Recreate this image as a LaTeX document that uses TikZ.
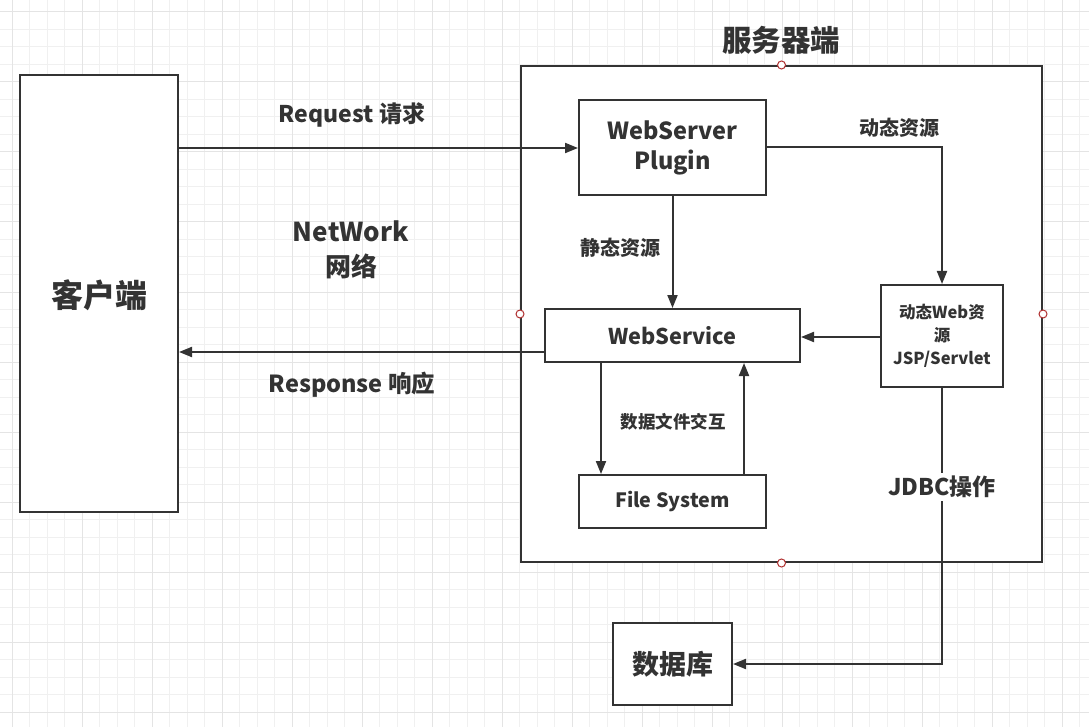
\documentclass[tikz,border=0pt]{standalone}
\usepackage{fontspec}
\setmainfont{Noto Sans CJK SC}
\usetikzlibrary{arrows.meta}
\definecolor{ink}{HTML}{333333}
\definecolor{gridminor}{HTML}{F0F0F0}
\definecolor{gridmajor}{HTML}{E4E4E4}
\definecolor{handle}{HTML}{B03030}
\tikzset{
  box/.style={draw=ink, line width=2pt, fill=white, inner sep=0pt},
  conn/.style={draw=ink, line width=2pt, -{Triangle[length=13pt,width=10pt]}},
  lbl/.style={text=ink, font=\bfseries, inner sep=1pt, align=center},
  handledot/.style={circle, draw=handle, fill=white, line width=1pt, minimum size=8pt, inner sep=0pt},
}
\begin{document}
\begin{tikzpicture}[x=1pt,y=-1pt]
\useasboundingbox (0,0) rectangle (1089,727);
\fill[white] (0,0) rectangle (1089,727);
% grid
\foreach \i in {0,...,62} {
  \pgfmathsetmacro{\gx}{12+17.5*\i}
  \draw[gridminor, line width=1pt] (\gx,0) -- (\gx,727);
}
\foreach \i in {0,...,41} {
  \pgfmathsetmacro{\gy}{12+17.5*\i}
  \draw[gridminor, line width=1pt] (0,\gy) -- (1089,\gy);
}
\foreach \i in {0,...,15} {
  \pgfmathsetmacro{\gx}{12+70*\i}
  \draw[gridmajor, line width=1pt] (\gx,0) -- (\gx,727);
}
\foreach \i in {0,...,10} {
  \pgfmathsetmacro{\gy}{12+70*\i}
  \draw[gridmajor, line width=1pt] (0,\gy) -- (1089,\gy);
}

% server frame
\node[box, minimum width=521pt, minimum height=496pt] (server) at (781.5,314) {};
\node[lbl, font=\bfseries\fontsize{29.5}{34}\selectfont] (servertitle) at (781,40) {服务器端};
\node[handledot] (h1) at (server.north) {};
\node[handledot] (h2) at (server.south) {};
\node[handledot] (h3) at (server.west) {};
\node[handledot] (h4) at (server.east) {};

% client
\node[box, minimum width=158pt, minimum height=437pt] (client) at (99,293.5) {};
\node[lbl, font=\bfseries\fontsize{32}{36}\selectfont] (clientlbl) at (99,295) {客户端};

% boxes
\node[box, minimum width=187pt, minimum height=95pt, font=\bfseries\fontsize{23.5}{30}\selectfont, text=ink, align=center] (plugin) at (672.5,147.5) {WebServer\\Plugin};
\node[box, minimum width=255pt, minimum height=53pt, font=\bfseries\fontsize{21.7}{24}\selectfont, text=ink] (ws) at (672.5,335.5) {WebService};
\node[box, minimum width=122pt, minimum height=102pt, font=\bfseries\fontsize{16.5}{23}\selectfont, text=ink, align=center] (dyn) at (942,336) {动态Web资\\源\\JSP/Servlet};
\node[box, minimum width=187pt, minimum height=53pt, font=\bfseries\fontsize{19.7}{24}\selectfont, text=ink] (fs) at (672.5,501.5) {File System};
\node[box, minimum width=119pt, minimum height=82pt, font=\bfseries\fontsize{27}{30}\selectfont, text=ink] (db) at (672.5,664) {数据库};

% connectors
\draw[conn] (client.east |- 0,148) -- (plugin.west |- 0,148);
\draw[conn] (ws.west |- 0,352) -- (client.east |- 0,352);
\draw[conn] (plugin.south) -- (ws.north);
\draw[conn] (plugin.east |- 0,147) -| (dyn.north);
\draw[conn] (dyn.west |- 0,337) -- (ws.east |- 0,337);
\draw[conn] (ws.south -| 601,0) -- (fs.north -| 601,0);
\draw[conn] (fs.north -| 744,0) -- (ws.south -| 744,0);
\draw[conn] (dyn.south) |- (db.east);

% labels
\node[lbl, font=\bfseries\fontsize{23}{26}\selectfont] (reqlbl) at (352,115) {Request 请求};
\node[lbl, font=\bfseries\fontsize{26}{35}\selectfont] (netlbl) at (351,250) {NetWork\\网络};
\node[lbl, font=\bfseries\fontsize{23.5}{26}\selectfont] (resplbl) at (352,385) {Response 响应};
\node[lbl, font=\bfseries\fontsize{20}{24}\selectfont] (statlbl) at (620,248) {静态资源};
\node[lbl, font=\bfseries\fontsize{20}{24}\selectfont] (dynlbl) at (899,128) {动态资源};
\node[lbl, font=\bfseries\fontsize{17.5}{22}\selectfont] (filelbl) at (673,422) {数据文件交互};
\node[lbl, font=\bfseries\fontsize{23}{26}\selectfont, fill=white, inner sep=3pt] (jdbclbl) at (942,487) {JDBC操作};
\end{tikzpicture}
\end{document}
